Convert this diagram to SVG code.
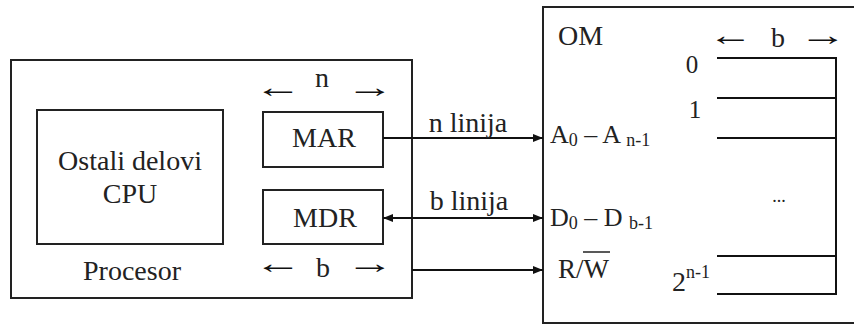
<svg xmlns="http://www.w3.org/2000/svg" width="854" height="326" viewBox="0 0 854 326">
<defs>
<style>
.box{fill:none;stroke:#222;stroke-width:2}
.ln{fill:none;stroke:#111;stroke-width:2}
.t{font-family:'Liberation Serif','DejaVu Serif',serif;fill:#222;font-size:28px}
.c{text-anchor:middle}
.ar{font-family:'Liberation Serif','DejaVu Serif',serif;fill:#111;font-size:30px}
.s{font-size:18px}
</style>
<marker id="ah" viewBox="0 0 10 10" refX="10" refY="5" markerWidth="10" markerHeight="10" markerUnits="userSpaceOnUse" orient="auto-start-reverse">
<path d="M0,1 L10,5 L0,9 Z" fill="#111"/>
</marker>
</defs>
<rect width="854" height="326" fill="#fff"/>

<g id="procesor">
<rect class="box" x="11" y="60" width="401" height="238"/>
<text class="t c" x="132" y="280">Procesor</text>
</g>

<g id="ostali">
<rect class="box" x="37" y="110" width="186" height="134"/>
<text class="t c" x="130" y="170">Ostali delovi</text>
<text class="t c" x="130" y="203">CPU</text>
</g>

<g id="mar">
<text class="ar" transform="translate(254,97) scale(1.6,1)">←</text>
<text class="t c" x="322" y="87">n</text>
<text class="ar" transform="translate(346,97) scale(1.6,1)">→</text>
<rect class="box" x="263" y="112" width="120" height="55"/>
<text class="t c" x="324" y="147">MAR</text>
</g>

<g id="mdr">
<rect class="box" x="263" y="190" width="120" height="54"/>
<text class="t c" x="325" y="227">MDR</text>
<text class="ar" transform="translate(254,273) scale(1.6,1)">←</text>
<text class="t c" x="323" y="277">b</text>
<text class="ar" transform="translate(346,273) scale(1.6,1)">→</text>
</g>

<g id="om">
<rect class="box" x="543" y="7" width="330" height="316"/>
<text class="t" x="558" y="45">OM</text>
<text class="ar" transform="translate(708,45) scale(1.5,1)">←</text>
<text class="t c" x="778" y="47">b</text>
<text class="ar" transform="translate(799,45) scale(1.6,1)">→</text>
<text class="t c" x="692" y="73" style="font-size:25px">0</text>
<text class="t c" x="695" y="118" style="font-size:25px">1</text>
<polyline class="ln" points="717,58 836,58 836,294 717,294"/>
<line class="ln" x1="717" y1="98" x2="836" y2="98"/>
<line class="ln" x1="717" y1="138" x2="836" y2="138"/>
<line class="ln" x1="717" y1="256" x2="836" y2="256"/>
<text class="t c" x="779" y="202" style="font-size:18px">...</text>
<text class="t" x="672" y="291">2<tspan class="s" dy="-13">n-1</tspan></text>
<text class="t" x="550" y="143" style="font-size:26px">A<tspan class="s" dy="3">0</tspan><tspan dy="-3"> – A </tspan><tspan class="s" dy="3">n-1</tspan></text>
<text class="t" x="550" y="226" style="font-size:26px">D<tspan class="s" dy="3">0</tspan><tspan dy="-3"> – D </tspan><tspan class="s" dy="3">b-1</tspan></text>
<text class="t" x="558" y="278" style="font-size:27px">R/W</text>
<line x1="583" y1="252" x2="610" y2="252" stroke="#222" stroke-width="1.5"/>
</g>

<g id="connectors">
<line class="ln" x1="383" y1="138" x2="543" y2="138" marker-end="url(#ah)"/>
<text class="t c" x="468" y="132">n linija</text>
<line class="ln" x1="383" y1="218" x2="543" y2="218" marker-start="url(#ah)" marker-end="url(#ah)"/>
<text class="t c" x="469" y="210">b linija</text>
<line class="ln" x1="412" y1="270" x2="543" y2="270" marker-end="url(#ah)"/>
</g>
</svg>
